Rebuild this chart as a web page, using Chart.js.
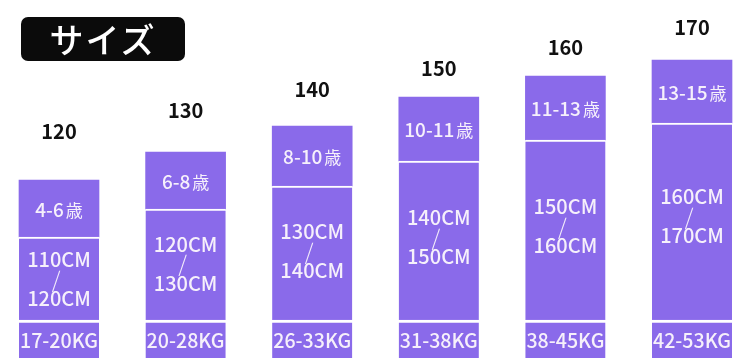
<!DOCTYPE html>
<html>
<head>
<meta charset="utf-8">
<script src="https://cdn.jsdelivr.net/npm/chart.js@4"></script>
<style>
  html, body { margin: 0; padding: 0; background: #fff; }
  #wrap { position: relative; width: 750px; height: 364px; }
  #title {
    position: absolute; left: 21px; top: 17px; width: 164px; height: 44px;
    background: #0b0b0b; border-radius: 7px; color: #fff;
    font: 500 34px "Noto Sans CJK JP", sans-serif; line-height: 44px;
    text-align: center; letter-spacing: 2px;
  }
</style>
</head>
<body>
<div id="wrap">
  <canvas id="chart" width="750" height="364"></canvas>
  <div id="title">サイズ</div>
</div>
<script>
// size chart data (heights, arbitrary px-like units)
const sizes = ["120", "130", "140", "150", "160", "170"];
const sizeValues = [120, 130, 140, 150, 160, 170];
const weights = ["17-20KG", "20-28KG", "26-33KG", "31-38KG", "38-45KG", "42-53KG"];
const heightsLo = ["110CM", "120CM", "130CM", "140CM", "150CM", "160CM"];
const heightsHi = ["120CM", "130CM", "140CM", "150CM", "160CM", "170CM"];
const ages = ["4-6", "6-8", "8-10", "10-11", "11-13", "13-15"];

const weightSeg = [38, 38, 38, 38, 38, 38];
const heightSeg = [83, 111, 134, 159, 180, 197];
const ageSeg = [57, 57, 60, 64, 64, 63];

const PURPLE = "#8a6aea";
const TEXT = "#f6f0fb";
const FONT = '"Noto Sans CJK JP", "Noto Sans", sans-serif';

const labelPlugin = {
  id: "segLabels",
  afterDatasetsDraw(chart) {
    const ctx = chart.ctx;
    ctx.save();
    ctx.textBaseline = "middle";

    const wMeta = chart.getDatasetMeta(0);
    const hMeta = chart.getDatasetMeta(1);
    const aMeta = chart.getDatasetMeta(2);
    const sMeta = chart.getDatasetMeta(3);

    sizes.forEach((s, i) => {
      ctx.textAlign = "center";
      ctx.fillStyle = TEXT;

      // weight
      let el = wMeta.data[i];
      ctx.font = "500 20px " + FONT;
      ctx.fillText(weights[i], el.x, (el.y + el.base) / 2 + 1, 78);

      // height range
      el = hMeta.data[i];
      const mid = (el.y + el.base) / 2 - (el.base - el.y - 83) * 0.05;
      ctx.font = "500 20px " + FONT;
      ctx.fillText(heightsLo[i], el.x, mid - 19, 64);
      ctx.fillText(heightsHi[i], el.x, mid + 20, 64);
      ctx.font = "200 22px " + FONT;
      ctx.fillText("/", el.x - 3, mid + 1);

      // age: number part + smaller 歳
      el = aMeta.data[i];
      const ay = (el.y + el.base) / 2 + 1;
      ctx.font = "500 19px " + FONT;
      const nw = ctx.measureText(ages[i]).width;
      ctx.font = "400 17px " + FONT;
      const kw = ctx.measureText("歳").width;
      const gap = 2;
      const x0 = el.x - (nw + gap + kw) / 2;
      ctx.textAlign = "left";
      ctx.font = "500 19px " + FONT;
      ctx.fillText(ages[i], x0, ay);
      ctx.font = "400 17px " + FONT;
      ctx.fillText("歳", x0 + nw + gap, ay + 1);

      // size above bar
      const p = sMeta.data[i];
      ctx.textAlign = "center";
      ctx.fillStyle = "#111";
      ctx.font = "700 20px " + FONT;
      ctx.fillText(s, p.x, p.y);
    });
    ctx.restore();
  }
};

new Chart(document.getElementById("chart"), {
  type: "bar",
  data: {
    labels: sizes,
    datasets: [
      { data: weightSeg, backgroundColor: PURPLE, borderColor: "#fff",
        borderWidth: { top: 3, left: 0, right: 0, bottom: 0 }, borderSkipped: false, clip: false },
      { data: heightSeg, backgroundColor: PURPLE, borderColor: "#fff",
        borderWidth: { top: 2, left: 0, right: 0, bottom: 0 }, borderSkipped: false, clip: false },
      { data: ageSeg, backgroundColor: PURPLE, borderWidth: 0, clip: false },
      { type: "line", data: sizeValues, yAxisID: "ySize", showLine: false,
        pointRadius: 0, stack: "size", clip: false }
    ]
  },
  options: {
    responsive: false,
    animation: false,
    layout: { padding: { left: 59, right: 58, top: 0, bottom: 6 } },
    datasets: { bar: { barThickness: 80 } },
    plugins: { legend: { display: false }, tooltip: { enabled: false } },
    scales: {
      x: { stacked: true, offset: false, display: false },
      y: { stacked: true, min: 0, max: 358, display: false },
      ySize: { min: 11, max: 183, display: false }
    }
  },
  plugins: [labelPlugin]
});
</script>
</body>
</html>
